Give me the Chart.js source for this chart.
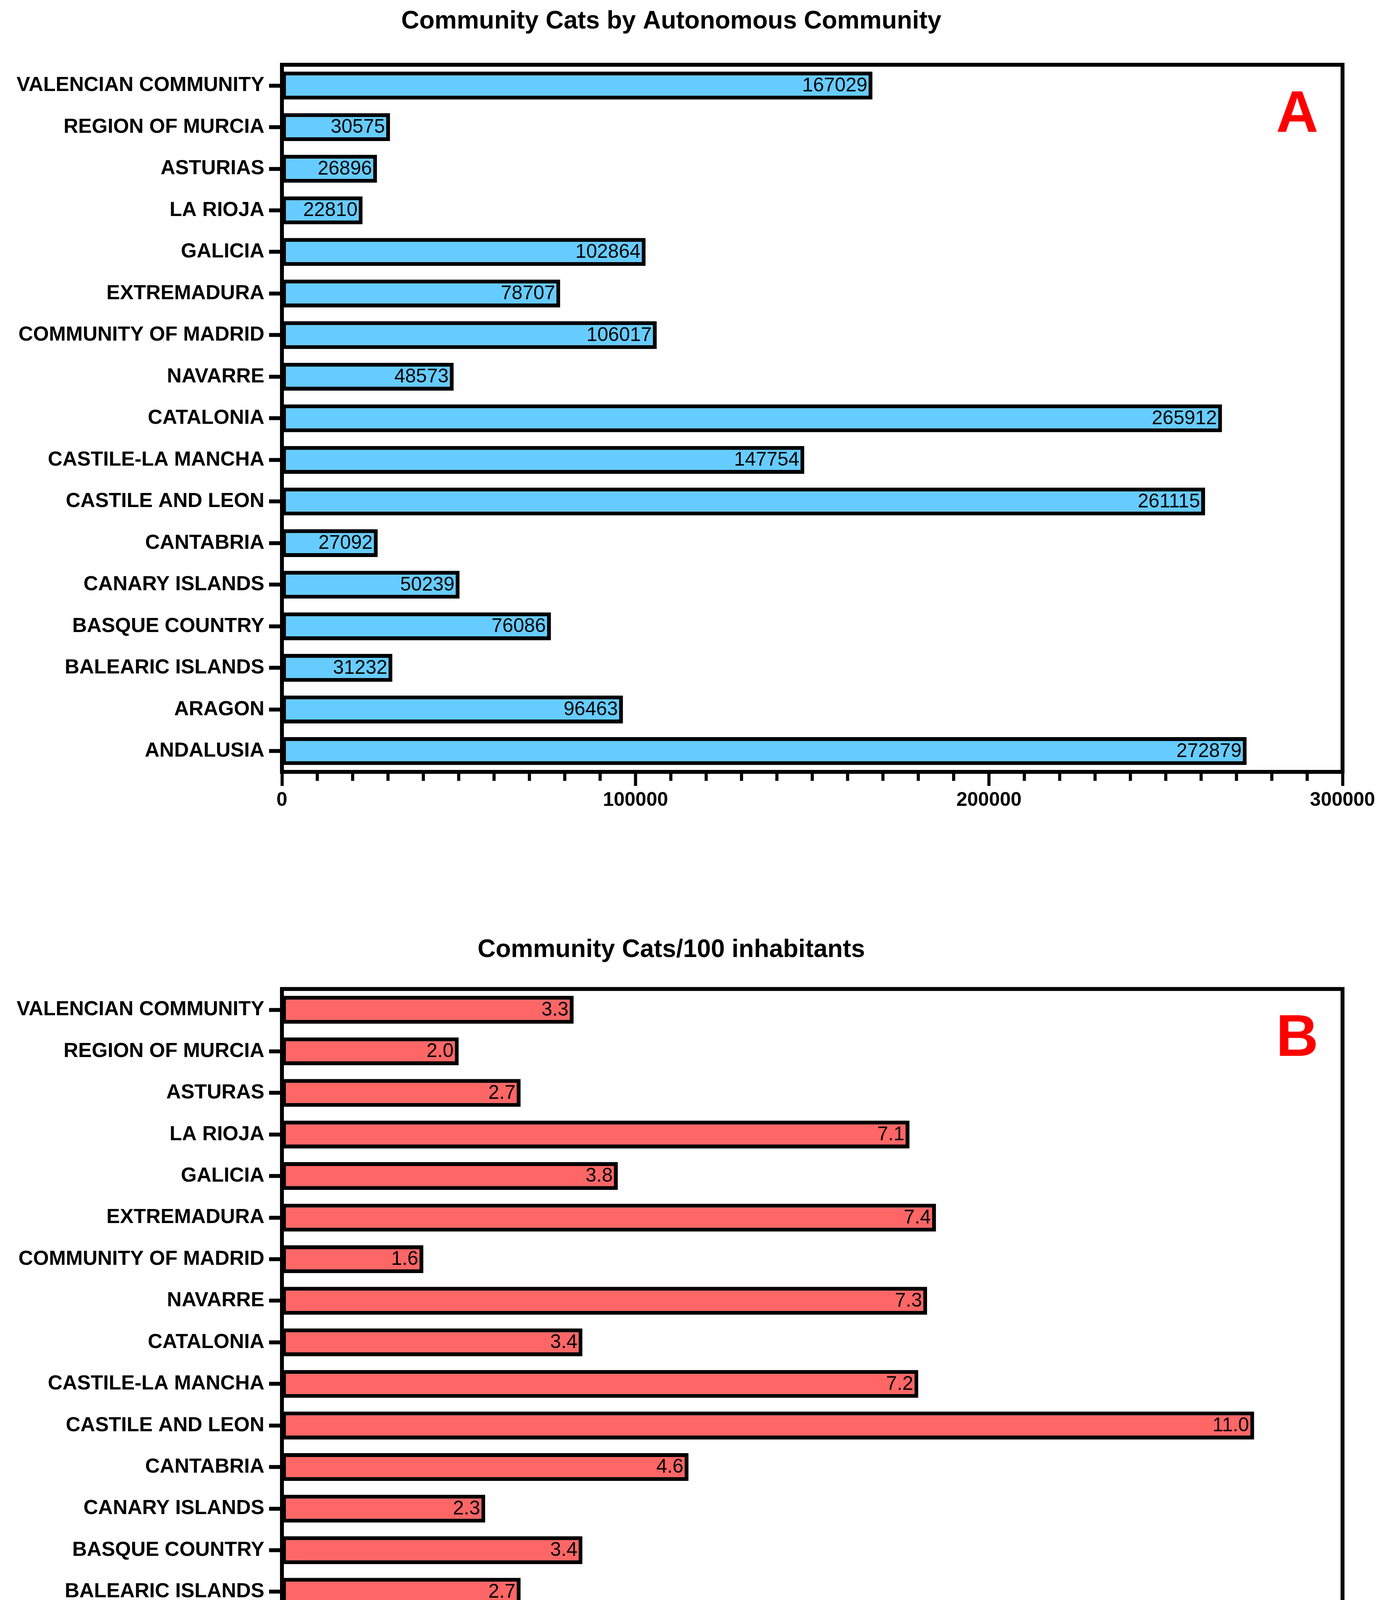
<!DOCTYPE html>
<html>
<head>
<meta charset="utf-8">
<script src="https://cdn.jsdelivr.net/npm/chart.js@4.4.1/dist/chart.umd.min.js"></script>
<style>
  html, body { margin: 0; padding: 0; background: #fff; }
  .panel { position: absolute; left: 0; width: 3557px; }
  #panelA { top: 0; height: 2240px; }
  #panelB { top: 2240px; height: 2238px; }
</style>
</head>
<body>
<div class="panel" id="panelA"><canvas id="chartA"></canvas></div>
<div class="panel" id="panelB"><canvas id="chartB"></canvas></div>
<script>
// categories, top to bottom as in the figure
const regionsA = ['VALENCIAN COMMUNITY', 'REGION OF MURCIA', 'ASTURIAS', 'LA RIOJA', 'GALICIA', 'EXTREMADURA',
  'COMMUNITY OF MADRID', 'NAVARRE', 'CATALONIA', 'CASTILE-LA MANCHA', 'CASTILE AND LEON', 'CANTABRIA',
  'CANARY ISLANDS', 'BASQUE COUNTRY', 'BALEARIC ISLANDS', 'ARAGON', 'ANDALUSIA'];
const regionsB = ['VALENCIAN COMMUNITY', 'REGION OF MURCIA', 'ASTURAS', 'LA RIOJA', 'GALICIA', 'EXTREMADURA',
  'COMMUNITY OF MADRID', 'NAVARRE', 'CATALONIA', 'CASTILE-LA MANCHA', 'CASTILE AND LEON', 'CANTABRIA',
  'CANARY ISLANDS', 'BASQUE COUNTRY', 'BALEARIC ISLANDS', 'ARAGON', 'ANDALUSIA'];

const catCounts = [167029, 30575, 26896, 22810, 102864, 78707, 106017, 48573, 265912, 147754, 261115, 27092,
  50239, 76086, 31232, 96463, 272879];
const catsPer100 = [3.3, 2.0, 2.7, 7.1, 3.8, 7.4, 1.6, 7.3, 3.4, 7.2, 11.0, 4.6, 2.3, 3.4, 2.7, 7.3, 3.2];

// x axis ticks
const countAxis = { max: 300000, labelStep: 100000, minorStep: 10000 };
const rateAxis = { max: 12, labelStep: 1 };

const FONT = "'Liberation Sans', Arial, Helvetica, sans-serif";
Chart.defaults.font.family = FONT;
Chart.defaults.color = '#000';

const panelPlugin = {
  id: 'panel',
  afterDatasetsDraw(chart, args, opts) {
    const { ctx, chartArea: a } = chart;
    const x = chart.scales.x;
    ctx.save();

    // value labels inside the bars
    const values = chart.data.datasets[0].data;
    ctx.font = `50px ${FONT}`;
    ctx.fillStyle = '#000';
    ctx.textAlign = 'right';
    ctx.textBaseline = 'middle';
    chart.getDatasetMeta(0).data.forEach((bar, i) => {
      ctx.fillText(values[i].toFixed(opts.decimals), bar.x - 13, bar.y + 1);
    });

    // box round the plot
    ctx.lineWidth = 10;
    ctx.strokeStyle = '#000';
    ctx.strokeRect(a.left, a.top, a.right - a.left, a.bottom - a.top);

    // short minor ticks
    if (opts.minorStep) {
      ctx.lineWidth = 8;
      ctx.beginPath();
      x.ticks.forEach(t => {
        if (t.value % opts.labelStep === 0) return;
        const px = x.getPixelForValue(t.value);
        ctx.moveTo(px, a.bottom);
        ctx.lineTo(px, a.bottom + 23);
      });
      ctx.stroke();
    }

    // panel letter
    ctx.font = `bold 150px ${FONT}`;
    ctx.fillStyle = '#ff0000';
    ctx.textAlign = 'right';
    ctx.textBaseline = 'middle';
    ctx.fillText(opts.letter, a.right - 62, a.top + 130);
    ctx.restore();
  }
};

function makeChart(id, cfg) {
  const step = cfg.axis.minorStep || cfg.axis.labelStep;
  return new Chart(document.getElementById(id), {
    type: 'bar',
    data: {
      labels: cfg.labels,
      datasets: [{
        data: cfg.values,
        backgroundColor: cfg.color,
        borderColor: '#000',
        borderWidth: 10,
        borderSkipped: false,
        barPercentage: 0.67,
        categoryPercentage: 1
      }]
    },
    options: {
      indexAxis: 'y',
      responsive: true,
      maintainAspectRatio: false,
      devicePixelRatio: 1,
      animation: false,
      layout: { padding: { left: 0, right: 119, top: 0, bottom: 0 } },
      plugins: {
        legend: { display: false },
        tooltip: { enabled: false },
        title: {
          display: true,
          text: cfg.title,
          color: '#000',
          font: { size: 64, weight: 'bold', lineHeight: 1.2 },
          padding: { top: cfg.titleTop, bottom: cfg.titleBottom }
        },
        panel: { letter: cfg.letter, decimals: cfg.decimals, minorStep: cfg.axis.minorStep || 0, labelStep: cfg.axis.labelStep }
      },
      scales: {
        x: {
          min: 0,
          max: cfg.axis.max,
          border: { display: false },
          grid: {
            drawOnChartArea: false,
            drawTicks: true,
            tickLength: cfg.tickLength,
            tickWidth: 8,
            tickColor: c => (c.tick && c.tick.value % cfg.axis.labelStep === 0) ? '#000' : 'rgba(0,0,0,0)'
          },
          ticks: {
            stepSize: step,
            autoSkip: false,
            maxRotation: 0,
            padding: cfg.tickPad,
            color: '#000',
            font: { size: 50, weight: 'bold', lineHeight: 1.2 },
            callback: v => (v % cfg.axis.labelStep === 0) ? String(v) : ''
          },
          afterFit: s => { s.height = cfg.xHeight; }
        },
        y: {
          offset: true,
          border: { display: false },
          grid: {
            offset: false,
            drawOnChartArea: false,
            drawTicks: true,
            tickLength: 33,
            tickWidth: 10,
            tickColor: '#000'
          },
          ticks: {
            autoSkip: false,
            padding: 12,
            color: '#000',
            font: { size: 52, weight: 'bold' }
          },
          afterFit: s => { s.width = 722; }
        }
      }
    },
    plugins: [panelPlugin]
  });
}

makeChart('chartA', {
  labels: regionsA, values: catCounts, color: '#66ccff', letter: 'A', decimals: 0,
  title: 'Community Cats by Autonomous Community', titleTop: 17, titleBottom: 72,
  axis: countAxis, tickLength: 36, tickPad: 7, xHeight: 264
});

makeChart('chartB', {
  labels: regionsB, values: catsPer100, color: '#ff6666', letter: 'B', decimals: 1,
  title: 'Community Cats/100 inhabitants', titleTop: 154, titleBottom: 61,
  axis: rateAxis, tickLength: 37, tickPad: 8, xHeight: 137
});
</script>
</body>
</html>
